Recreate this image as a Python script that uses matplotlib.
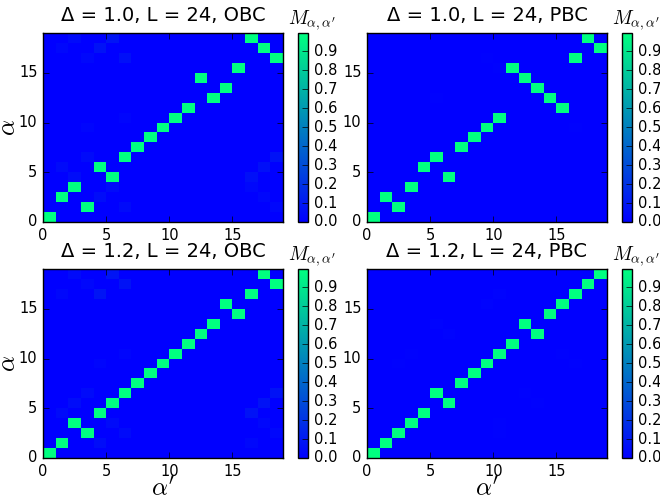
import numpy as np
import matplotlib

matplotlib.use("Agg")
import matplotlib.pyplot as plt

# column of the bright (overlap ~1) cell for each row alpha = 0..18
peak_d10_obc = [0, 3, 1, 2, 5, 4, 6, 7, 8, 9, 10, 11, 13, 14, 12, 15, 18, 17, 16]
peak_d10_pbc = [0, 2, 1, 3, 6, 4, 5, 7, 8, 9, 10, 15, 14, 13, 12, 11, 16, 18, 17]
peak_d12_obc = [0, 1, 3, 2, 4, 5, 6, 7, 8, 9, 10, 11, 12, 13, 15, 14, 16, 18, 17]
peak_d12_pbc = [0, 1, 2, 3, 4, 6, 5, 7, 8, 9, 10, 11, 13, 12, 14, 15, 16, 17, 18]
peak_value = 0.995

# faint off-diagonal overlaps (row, col, value)
faint_d10_obc = [(18, 5, 0.08), (17, 4, 0.07), (16, 6, 0.06), (18, 2, 0.04),
                 (17, 1, 0.03), (16, 3, 0.03), (6, 18, 0.07), (5, 17, 0.06),
                 (4, 16, 0.06), (4, 2, 0.05), (5, 1, 0.04), (6, 3, 0.04),
                 (2, 4, 0.05), (3, 5, 0.04), (1, 6, 0.04), (3, 16, 0.03),
                 (2, 17, 0.03), (1, 18, 0.03), (10, 6, 0.02), (9, 3, 0.02)]
faint_d10_pbc = [(16, 9, 0.01), (15, 10, 0.01), (12, 5, 0.01), (9, 16, 0.01)]
faint_d12_obc = [(18, 5, 0.08), (17, 6, 0.07), (16, 4, 0.08), (18, 2, 0.04),
                 (17, 3, 0.03), (16, 1, 0.03), (6, 18, 0.07), (5, 17, 0.07),
                 (4, 16, 0.07), (5, 2, 0.05), (4, 1, 0.04), (6, 3, 0.04),
                 (1, 4, 0.05), (3, 5, 0.04), (2, 6, 0.04), (1, 16, 0.03),
                 (3, 17, 0.03), (2, 18, 0.03), (9, 4, 0.02), (10, 6, 0.02)]
faint_d12_pbc = [(16, 10, 0.015), (15, 9, 0.015), (13, 5, 0.015), (12, 6, 0.015),
                 (10, 3, 0.01), (9, 2, 0.01), (10, 15, 0.01), (9, 16, 0.01),
                 (6, 12, 0.01), (5, 13, 0.01), (3, 10, 0.01), (2, 10, 0.01)]

titles = ["Δ = 1.0, L = 24, OBC", "Δ = 1.0, L = 24, PBC",
          "Δ = 1.2, L = 24, OBC", "Δ = 1.2, L = 24, PBC"]
panels = [(peak_d10_obc, faint_d10_obc), (peak_d10_pbc, faint_d10_pbc),
          (peak_d12_obc, faint_d12_obc), (peak_d12_pbc, faint_d12_pbc)]


def overlap_matrix(peaks, faint):
    n = len(peaks)
    m = np.zeros((n, n))
    for row, col in enumerate(peaks):
        m[row, col] = peak_value
    for row, col, v in faint:
        m[row, col] = v
    return m


plt.style.use("classic")
plt.rcParams.update({
    "font.family": "DejaVu Sans",
    "mathtext.fontset": "cm",
    "xtick.labelsize": 10.5,
    "ytick.labelsize": 10.5,
})

W, H = 660, 500
fig = plt.figure(figsize=(6.6, 5.0), dpi=100, facecolor="white")

# pixel boxes: (left, top, right, bottom)
ax_boxes = [(43, 33, 283, 222), (367, 33, 607, 222),
            (43, 269, 283, 458), (367, 269, 607, 458)]
cb_boxes = [(298, 33, 308, 222), (622, 33, 632, 222),
            (298, 269, 308, 458), (622, 269, 632, 458)]


def rect(b):
    l, t, r, bt = b
    return [l / W, 1 - bt / H, (r - l) / W, (bt - t) / H]


for i, ((peaks, faint), title) in enumerate(zip(panels, titles)):
    m = overlap_matrix(peaks, faint)
    n = m.shape[0]
    ax = fig.add_axes(rect(ax_boxes[i]))
    mesh = ax.pcolormesh(np.arange(n + 1), np.arange(n + 1), m, cmap="winter",
                         vmin=0, vmax=m.max())
    ax.set_xlim(0, n)
    ax.set_ylim(0, n)
    ax.set_xticks([0, 5, 10, 15])
    ax.set_yticks([0, 5, 10, 15])
    ax.set_title(title, fontsize=14, pad=8.5)
    if i % 2 == 0:
        ax.set_ylabel("$\\alpha$", fontsize=18)
        ax.yaxis.set_label_coords(-0.097, 0.5)
    if i >= 2:
        ax.set_xlabel("$\\alpha'$", fontsize=18)
        ax.xaxis.set_label_coords(0.5, -0.1)

    cax = fig.add_axes(rect(cb_boxes[i]))
    cb = fig.colorbar(mesh, cax=cax, ticks=np.arange(0, 1.0, 0.1))
    cb.ax.set_yticklabels([f"{t:.1f}" for t in np.arange(0, 1.0, 0.1)])
    cb.ax.tick_params(labelsize=10.5)
    l, t, r, bt = cb_boxes[i]
    fig.text((l - 10) / W, 1 - (t - 9) / H, "$M_{\\alpha,\\alpha'}$",
             fontsize=14, ha="left", va="baseline")

fig.savefig("out.png", dpi=100, facecolor="white")
